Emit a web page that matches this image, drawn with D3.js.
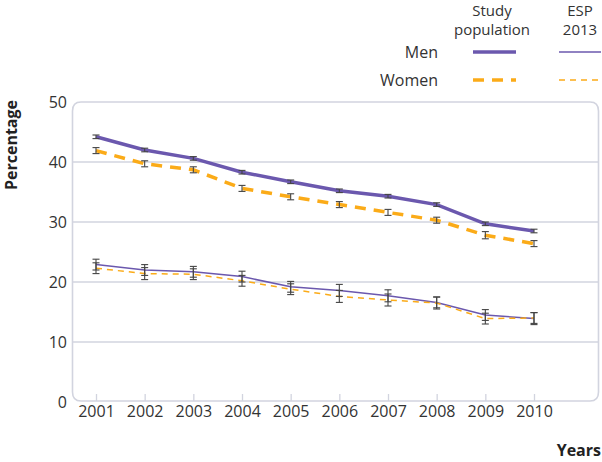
<!DOCTYPE html>
<html><head><meta charset="utf-8">
<script src="https://cdn.jsdelivr.net/npm/d3@7"></script>
<style>body{margin:0;background:#fff}svg{display:block;font-family:"Open Sans",sans-serif}</style>
</head><body>
<svg id="c" width="602" height="462"></svg>
<script>
const years = [2001,2002,2003,2004,2005,2006,2007,2008,2009,2010];
const menStudy = [44.2,42.0,40.6,38.3,36.7,35.2,34.3,32.9,29.7,28.5];
const menStudyErr = [0.3,0.3,0.3,0.3,0.3,0.3,0.3,0.3,0.3,0.3];
const womenStudy = [41.9,39.7,38.7,35.6,34.2,32.9,31.6,30.3,27.8,26.4];
const womenStudyErr = [0.5,0.5,0.5,0.5,0.5,0.5,0.5,0.5,0.6,0.5];
const menESP = [22.9,22.0,21.7,20.9,19.2,18.6,17.7,16.6,14.5,13.9];
const menESPErr = [0.9,0.9,0.9,0.9,0.9,1.0,1.0,0.9,0.9,1.0];
const womenESP = [22.3,21.4,21.3,20.2,18.8,17.6,17.0,16.5,13.9,14.0];
const womenESPErr = [0.9,1.0,0.9,0.9,0.9,1.0,1.0,1.0,0.9,0.9];
const yTicks = [0,10,20,30,40,50];
const series = [
  {name:"Men", group:"Study population", values:menStudy, err:menStudyErr, color:"#6b58ae", width:3.5, dash:null},
  {name:"Women", group:"Study population", values:womenStudy, err:womenStudyErr, color:"#fbab18", width:3.5, dash:"11,8"},
  {name:"Men", group:"ESP 2013", values:menESP, err:menESPErr, color:"#6b58ae", width:1.5, dash:null},
  {name:"Women", group:"ESP 2013", values:womenESP, err:womenESPErr, color:"#fbab18", width:1.5, dash:"6,5"}
];

const svg = d3.select("#c");
const x = d3.scaleLinear().domain([2001,2010]).range([96,534]);
const y = d3.scaleLinear().domain([0,50]).range([402,102]);
const frameL=72, frameR=599, frameT=y(50), frameB=401;
const grid="#d2d4df";

svg.append("g").selectAll("line").data([10,20,30,40]).join("line")
  .attr("x1",frameL).attr("x2",frameR).attr("y1",d=>y(d)).attr("y2",d=>y(d))
  .attr("stroke",grid).attr("stroke-width",1.3);
svg.append("path")
  .attr("d",`M${frameL+0.5},${frameT+9}Q${frameL+0.5},${frameT} ${frameL+9},${frameT}L${frameR-9},${frameT}Q${frameR-0.5},${frameT} ${frameR-0.5},${frameT+9}L${frameR-0.5},${frameB-9}Q${frameR-0.5},${frameB} ${frameR-9},${frameB}L${frameL+9},${frameB}Q${frameL+0.5},${frameB} ${frameL+0.5},${frameB-9}Z`)
  .attr("fill","none").attr("stroke",grid).attr("stroke-width",1.6);

const yAxis = d3.axisLeft(y).tickValues(yTicks).tickSize(0).tickPadding(0);
const ya = svg.append("g").attr("transform","translate(67,0)").call(yAxis);
ya.select(".domain").remove();
ya.selectAll("text").attr("font-size",16).attr("fill","#333").attr("font-family","'Open Sans',sans-serif");

const xAxis = d3.axisBottom(x).tickValues(years).tickFormat(d3.format("d")).tickSize(-7).tickPadding(8);
const xa = svg.append("g").attr("transform",`translate(0,${frameB})`).call(xAxis);
xa.select(".domain").remove();
xa.selectAll("line").attr("stroke",grid).attr("stroke-width",1.3);
xa.selectAll("text").attr("font-size",16).attr("fill","#333").attr("font-family","'Open Sans',sans-serif").attr("dy","0.5em");

svg.append("text").attr("transform","translate(17,145) rotate(-90)").attr("text-anchor","middle")
  .attr("font-size",16).attr("font-weight","bold").attr("fill","#222").text("Percentage");
svg.append("text").attr("x",601).attr("y",456).attr("text-anchor","end")
  .attr("font-size",16).attr("font-weight","bold").attr("fill","#222").text("Years");

const line = d3.line().x((d,i)=>x(years[i])).y(d=>y(d));
series.forEach(s=>{
  svg.append("path").datum(s.values).attr("d",line).attr("fill","none")
    .attr("stroke",s.color).attr("stroke-width",s.width)
    .attr("stroke-dasharray",s.dash);
});
series.forEach(s=>{
  const g = svg.append("g").attr("stroke","#444").attr("stroke-width",1.1).attr("fill","none");
  s.values.forEach((v,i)=>{
    const cx=x(years[i]), y1=y(v+s.err[i]), y2=y(v-s.err[i]);
    g.append("line").attr("x1",cx).attr("x2",cx).attr("y1",y1).attr("y2",y2);
    g.append("line").attr("x1",cx-3.5).attr("x2",cx+3.5).attr("y1",y1).attr("y2",y1);
    g.append("line").attr("x1",cx-3.5).attr("x2",cx+3.5).attr("y1",y2).attr("y2",y2);
  });
});

const lg = svg.append("g").attr("font-size",15).attr("fill","#333");
lg.append("text").attr("x",492).attr("y",16).attr("text-anchor","middle").text("Study");
lg.append("text").attr("x",492).attr("y",35).attr("text-anchor","middle").text("population");
lg.append("text").attr("x",580).attr("y",16).attr("text-anchor","middle").text("ESP");
lg.append("text").attr("x",580).attr("y",35).attr("text-anchor","middle").text("2013");
lg.append("text").attr("x",438).attr("y",58).attr("text-anchor","end").attr("font-size",16).text("Men");
lg.append("text").attr("x",438).attr("y",86).attr("text-anchor","end").attr("font-size",16).text("Women");
const legPos = [{x1:473,x2:516,y:52},{x1:473,x2:516,y:80},{x1:559,x2:601,y:52},{x1:559,x2:601,y:80}];
series.forEach((s,i)=>{
  const p=legPos[i];
  svg.append("line").attr("x1",p.x1).attr("x2",p.x2).attr("y1",p.y).attr("y2",p.y)
    .attr("stroke",s.color).attr("stroke-width",s.width).attr("stroke-dasharray",s.dash);
});
</script>
</body></html>
